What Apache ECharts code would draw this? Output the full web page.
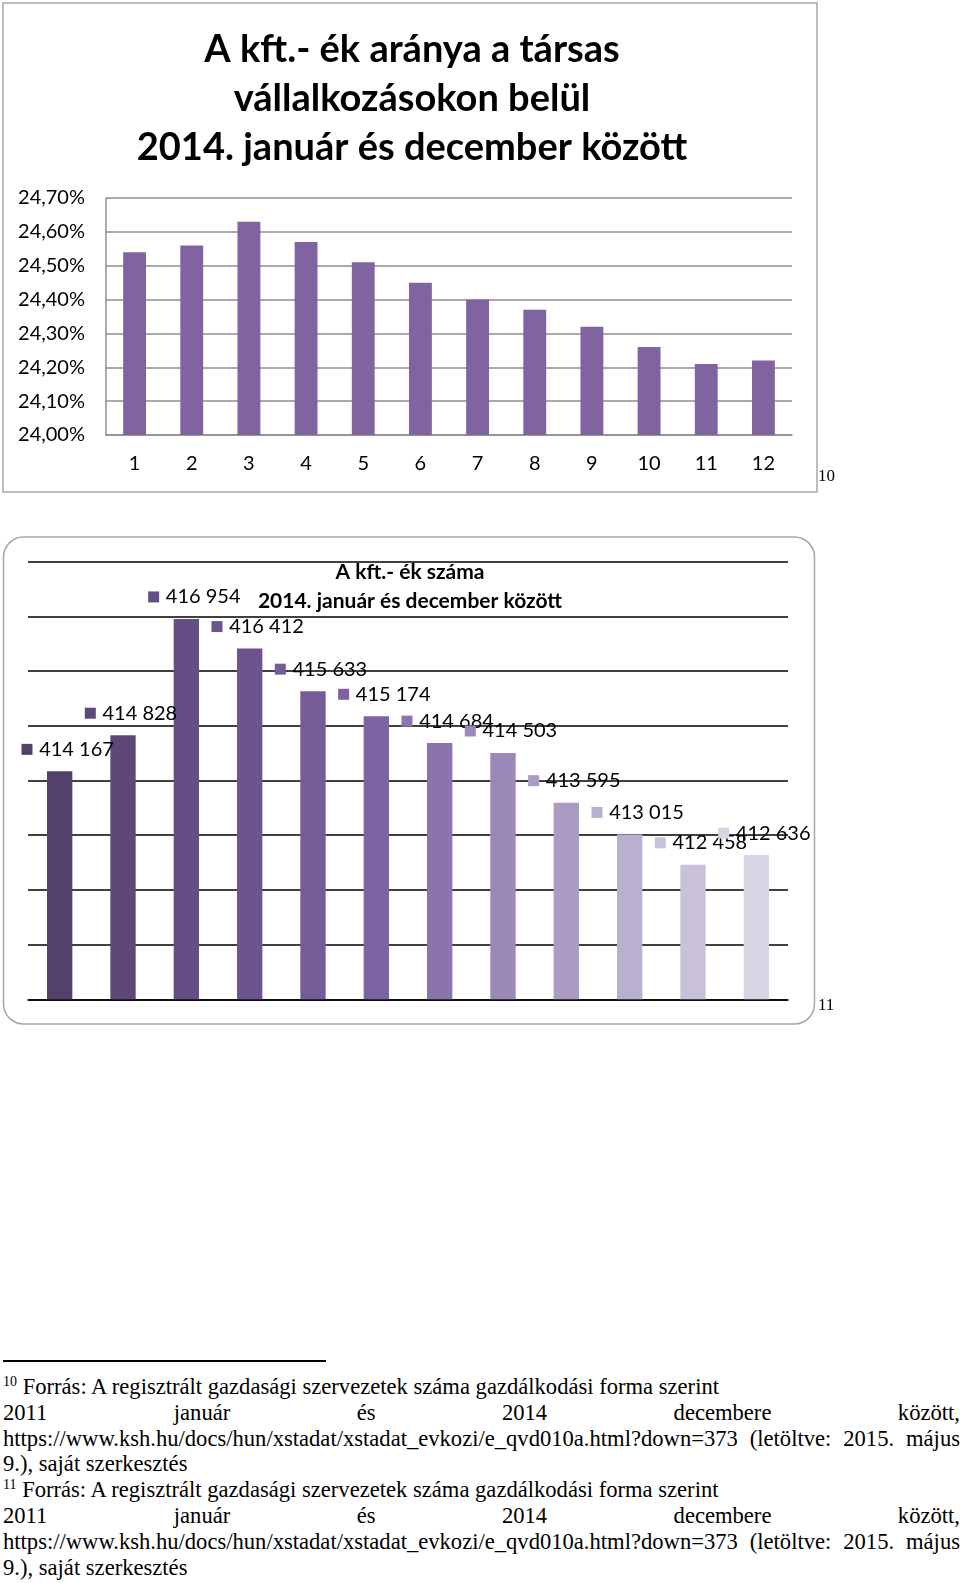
<!DOCTYPE html>
<html><head><meta charset="utf-8">
<script src="https://cdn.jsdelivr.net/npm/echarts@6/dist/echarts.min.js"></script>
<style>
body{margin:0;background:#fff;}
#page{position:relative;width:960px;height:1583px;overflow:hidden;background:#fff}
#c{position:absolute;left:0;top:0;width:960px;height:1040px}
#sep{position:absolute;left:3px;top:1360px;width:323px;height:2px;background:#000}
#fn{position:absolute;left:3px;top:1374px;width:957px;font-family:"Liberation Serif","Times New Roman",serif;font-size:22.6px;line-height:25.8px;color:#000}
#fn div{height:25.8px;overflow:hidden}
#fn .j{text-align:justify;text-align-last:justify}
#fn sup{font-size:14px;vertical-align:top;line-height:14px;position:relative;top:1px}
</style></head>
<body><div id="page">
<div id="c"></div>
<div id="sep"></div>
<div id="fn">
<div><sup>10</sup> Forrás: A regisztrált gazdasági szervezetek száma gazdálkodási forma szerint</div>
<div class="j">2011 január és 2014 decembere között,</div>
<div class="j">https://www.ksh.hu/docs/hun/xstadat/xstadat_evkozi/e_qvd010a.html?down=373 (letöltve: 2015. május</div>
<div>9.), saját szerkesztés</div>
<div><sup>11</sup> Forrás: A regisztrált gazdasági szervezetek száma gazdálkodási forma szerint</div>
<div class="j">2011 január és 2014 decembere között,</div>
<div class="j">https://www.ksh.hu/docs/hun/xstadat/xstadat_evkozi/e_qvd010a.html?down=373 (letöltve: 2015. május</div>
<div>9.), saját szerkesztés</div>
</div>
</div>
<script>
// ---- data ----
const months = ['1','2','3','4','5','6','7','8','9','10','11','12'];
const kftShare = [24.54, 24.56, 24.63, 24.57, 24.51, 24.45, 24.40, 24.37, 24.32, 24.26, 24.21, 24.22];
const kftCount = [414167, 414828, 416954, 416412, 415633, 415174, 414684, 414503, 413595, 413015, 412458, 412636];
const title1 = 'A kft.- ék aránya a társas\nvállalkozásokon belül\n2014. január és december között';
const title2 = 'A kft.- ék száma\n2014. január és december között';
// ---- palette ----
const shades = ['#53406b','#5d4878','#654d85','#6d548f','#755b98','#7d63a1','#8b74ab','#9a88b6','#aa9bc2','#b9afce','#c8c1d9','#d8d4e4'];

const fmtNum = v => String(v).replace(/\B(?=(\d{3})+(?!\d))/g, ' ');
const font = 'Lato, "Open Sans", sans-serif';

const chart = echarts.init(document.getElementById('c'), null, {renderer: 'canvas'});
chart.setOption({
  animation: false,
  title: [
    {text: title1, left: 407, top: 20, textAlign: 'center',
     textStyle: {fontFamily: font, fontWeight: 'bold', fontSize: 38, lineHeight: 49, color: '#000'}},
    {text: title2, left: 405, top: 553, textAlign: 'center',
     textStyle: {fontFamily: font, fontWeight: 'bold', fontSize: 21, lineHeight: 28.7, color: '#000'}}
  ],
  graphic: [
    {type: 'rect', shape: {x: 3, y: 3, width: 814, height: 489}, style: {fill: 'none', stroke: '#a6a6a6', lineWidth: 1.5}, silent: true},
    {type: 'rect', shape: {x: 3.5, y: 537, width: 811, height: 487, r: 20}, style: {fill: 'none', stroke: '#a6a6a6', lineWidth: 1.5}, silent: true},
    {type: 'text', left: 818, top: 468, style: {text: '10', font: '17px "Liberation Serif"', fill: '#000'}},
    {type: 'text', left: 818, top: 997, style: {text: '11', font: '17px "Liberation Serif"', fill: '#000'}}
  ],
  grid: [
    {left: 106, top: 198, width: 686, height: 237},
    {left: 28, top: 561.7, width: 760, height: 437.6}
  ],
  xAxis: [
    {type: 'category', gridIndex: 0, data: months,
     axisLine: {lineStyle: {color: '#8e8e8e', width: 1.5}}, axisTick: {show: false},
     axisLabel: {fontFamily: font, fontSize: 20, color: '#000', margin: 19}},
    {type: 'category', gridIndex: 1, data: months,
     axisLine: {lineStyle: {color: '#000', width: 1.5}}, axisTick: {show: false}, axisLabel: {show: false}}
  ],
  yAxis: [
    {type: 'value', gridIndex: 0, min: 24.0, max: 24.7, interval: 0.1,
     axisLine: {show: true, lineStyle: {color: '#8e8e8e', width: 1.5}}, axisTick: {show: false},
     splitLine: {lineStyle: {color: '#8e8e8e', width: 1.5}},
     axisLabel: {fontFamily: font, fontSize: 20, color: '#000', margin: 21,
                 formatter: v => v.toFixed(2).replace('.', ',') + '%'}},
    {type: 'value', gridIndex: 1, min: 410000, max: 418000, interval: 1000,
     axisLine: {show: false}, axisTick: {show: false}, axisLabel: {show: false},
     splitLine: {lineStyle: {color: '#000', width: 1.5}}}
  ],
  series: [
    {type: 'bar', xAxisIndex: 0, yAxisIndex: 0, data: kftShare, barWidth: '40%',
     itemStyle: {color: '#8064a2'}},
    {type: 'bar', xAxisIndex: 1, yAxisIndex: 1, barWidth: '40%',
     data: kftCount.map((v, i) => ({
       value: v,
       itemStyle: {color: shades[i]},
       label: {rich: {m: {width: 11, height: 11, backgroundColor: shades[i]}}}
     })),
     label: {show: true, position: 'top', distance: 12, offset: [8, 0],
       formatter: p => '{m|}  {v|' + fmtNum(p.value) + '}',
       rich: {v: {fontFamily: font, fontSize: 20, color: '#000'}}}
    }
  ]
});
</script>
</body></html>
